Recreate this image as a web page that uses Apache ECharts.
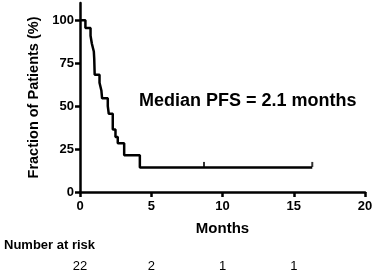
<!DOCTYPE html>
<html>
<head>
<meta charset="utf-8">
<script src="https://cdn.jsdelivr.net/npm/echarts@6/dist/echarts.min.js"></script>
<style>
html, body { margin: 0; padding: 0; background: #fff; }
#main { width: 376px; height: 278px; }
</style>
</head>
<body>
<div id="main"></div>
<script>
// Kaplan-Meier steps (months, % of patients)
var months   = [0, 0.38, 0.74, 0.83, 0.97, 1.0, 1.03, 1.37, 1.5, 1.55, 1.95, 2.02, 2.3, 2.49, 2.65, 3.1, 4.2, 16.3];
var fraction = [100, 95.5, 90.9, 86.4, 81.8, 77.3, 68.2, 63.6, 59.1, 54.5, 50.0, 45.5, 36.4, 32.0, 28.4, 21.4, 14.3, 14.3];
// censored observations
var censorMonths = [8.7, 16.3];
var censorFraction = [14.3, 14.3];
// number at risk table
var riskMonths = [0, 5, 10, 15];
var atRisk = [22, 2, 1, 1];
var yTicks = [0, 25, 50, 75, 100];

var font = 'Liberation Sans, Arial, sans-serif';
var myChart = echarts.init(document.getElementById('main'));

var option = {
    animation: false,
    backgroundColor: '#fff',
    grid: { left: 80, right: 11, top: 3, bottom: 86 },
    graphic: [{
        type: 'text', left: 139, top: 92,
        style: { text: 'Median PFS = 2.1 months', font: 'bold 18px ' + font, fill: '#000' }
    }, {
        type: 'text', left: 4, top: 239,
        style: { text: 'Number at risk', font: 'bold 13px ' + font, fill: '#000' }
    }],
    xAxis: [{
        type: 'value', min: 0, max: 20, interval: 5,
        name: 'Months', nameLocation: 'middle', nameGap: 29,
        nameTextStyle: { color: '#000', fontSize: 15, fontWeight: 'bold', fontFamily: font },
        axisLine: { lineStyle: { color: '#000', width: 2.5 } },
        axisTick: { length: 5, lineStyle: { color: '#000', width: 2.5 } },
        axisLabel: { color: '#000', fontSize: 13, fontWeight: 'bold', fontFamily: font, margin: 8 },
        splitLine: { show: false }
    }, {
        // at-risk row uses the same month scale
        type: 'value', min: 0, max: 20, interval: 5, position: 'bottom', offset: 68,
        axisLine: { show: false }, axisTick: { show: false }, splitLine: { show: false },
        axisLabel: {
            color: '#000', fontSize: 13, fontFamily: font, margin: 0,
            formatter: function (v) {
                var i = riskMonths.indexOf(v);
                return i < 0 ? '' : String(atRisk[i]);
            }
        }
    }],
    yAxis: {
        type: 'value', min: 0, max: 110,
        name: 'Fraction of Patients (%)', nameLocation: 'middle', nameGap: 36,
        nameTextStyle: { color: '#000', fontSize: 14.5, fontWeight: 'bold', fontFamily: font },
        axisLine: { show: true, lineStyle: { color: '#000', width: 2.5 } },
        axisTick: { show: true, length: 5, customValues: yTicks, lineStyle: { color: '#000', width: 2.5 } },
        axisLabel: { color: '#000', fontSize: 13, fontWeight: 'bold', fontFamily: font, margin: 6, customValues: yTicks },
        splitLine: { show: false }
    },
    series: [{
        type: 'line', step: 'end', showSymbol: false,
        lineStyle: { color: '#000', width: 2.5 },
        data: months.map(function (m, i) { return [m, fraction[i]]; })
    }, {
        type: 'scatter', symbol: 'rect', symbolSize: [2, 5], symbolOffset: [0, -3],
        itemStyle: { color: '#000' },
        data: censorMonths.map(function (m, i) { return [m, censorFraction[i]]; })
    }]
};
myChart.setOption(option);
</script>
</body>
</html>
